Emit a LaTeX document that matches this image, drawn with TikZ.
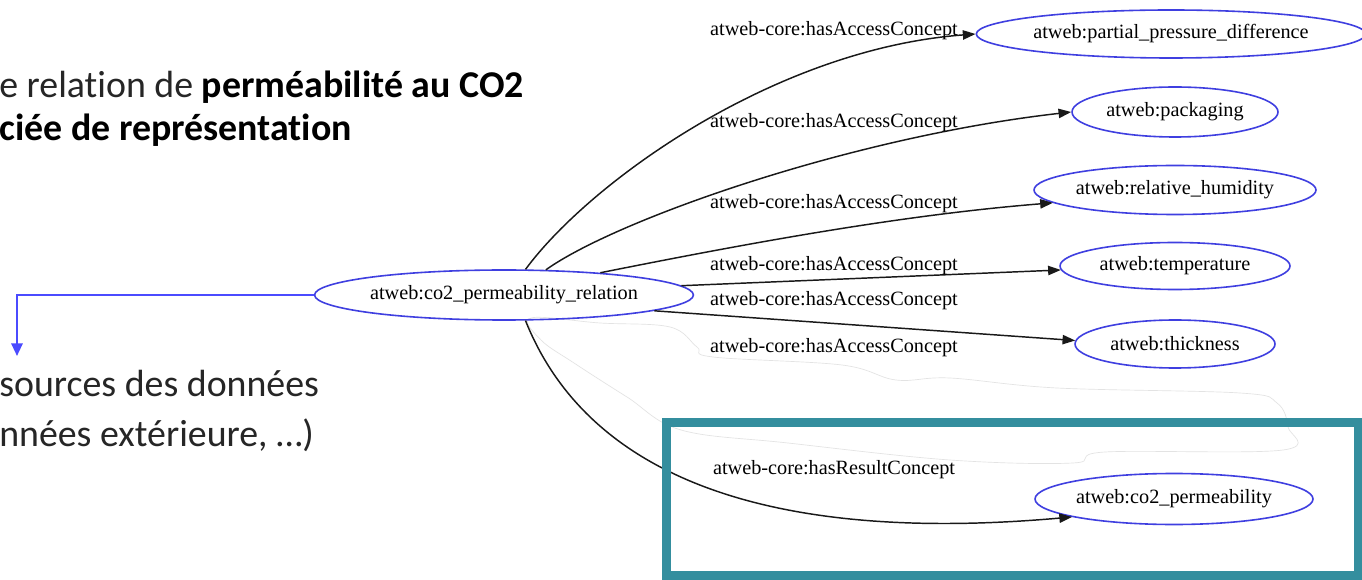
\documentclass[tikz,border=0pt]{standalone}
\usepackage{fontspec}
\setmainfont[Ligatures=NoCommon]{Carlito}
\newfontfamily\gfont{Liberation Serif}
\usetikzlibrary{shapes.geometric,arrows.meta}
\definecolor{ellblue}{HTML}{3F3FE0}
\definecolor{arrblue}{HTML}{4B4BFF}
\definecolor{tealbox}{HTML}{348E9E}
\definecolor{txtgray}{HTML}{262626}
\newcommand{\nolig}{\kern0pt\relax}
\tikzset{
  concept/.style={ellipse, draw=ellblue, line width=1.2pt, inner sep=0pt,
    font=\gfont\fontsize{15.2}{18}\selectfont, text=black},
  rel/.style={draw=black!90, line width=1.1pt, -{Triangle[length=9.5pt,width=7pt]}},
  rellabel/.style={font=\gfont\fontsize{15.2}{18}\selectfont, text=black, inner sep=0pt},
  slide/.style={font=\fontsize{28.4}{34}\selectfont, text=txtgray, inner sep=0pt, anchor=base west},
}
\begin{document}
\begin{tikzpicture}[x=0.75pt,y=-0.75pt]
\useasboundingbox (0,0) rectangle (1362,580);
\fill[white] (0,0) rectangle (1362,580);

% faint artefact outline
\draw[gray!22, line width=0.5pt] plot[smooth cycle, tension=0.6] coordinates {
 (531,318) (600,323) (670,327) (697,347) (713,357) (842,365) (896,380) (950,378)
 (1057,388) (1240,393) (1277,403) (1288,427) (1283,450) (1105,452) (1073,463)
 (950,460) (788,443) (681,430) (627,397) (574,363) (541,340)};

% slide text
\node[slide] (t1) at (-1,98) {e relat\nolig ion de \textbf{\color{black}perméabilité au CO2}};
\node[slide] (t2) at (-1,141) {\textbf{\color{black}ciée de représentat\nolig ion}};
\node[slide] (t3) at (-1,397) {sources des données};
\node[slide] (t4) at (-1,446) {nnées extérieure, …)};

% nodes
\node[concept, minimum width=372*0.75pt, minimum height=50*0.75pt] (main) at (504,295) {atweb:co2\_permeability\_relation};
\node[concept, minimum width=382*0.75pt, minimum height=48*0.75pt] (ppd) at (1171,34) {atweb:partial\_pressure\_difference};
\node[concept, minimum width=206*0.75pt, minimum height=50*0.75pt] (pack) at (1175,112) {atweb:packaging};
\node[concept, minimum width=282*0.75pt, minimum height=49*0.75pt] (rh) at (1175,190) {atweb:relative\_humidity};
\node[concept, minimum width=230*0.75pt, minimum height=47*0.75pt] (temp) at (1175,266) {atweb:temperature};
\node[concept, minimum width=200*0.75pt, minimum height=48*0.75pt] (thick) at (1175,344) {atweb:thickness};
\node[concept, minimum width=278*0.75pt, minimum height=51*0.75pt] (cp) at (1174,499) {atweb:co2\_permeability};

% edges
\draw[rel] (main.50) .. controls +(65,-88) and +(-200,15) .. (ppd.west);
\draw[rel] (main.31) .. controls +(70,-50) and +(-220,25) .. (pack.west);
\draw[rel] (main.13) .. controls +(150,-30) and +(-150,12) .. (rh.186);
\draw[rel] (main.3) -- (temp.182);
\draw[rel] (main.-6) -- (thick.178);
\draw[rel] (main.-50) .. controls +(60,150) and +(-315,28) .. (cp.190);

% edge labels
\node[rellabel] (l1) at (834,31) {atweb-core:hasAccessConcept};
\node[rellabel] (l2) at (834,123) {atweb-core:hasAccessConcept};
\node[rellabel] (l3) at (834,204) {atweb-core:hasAccessConcept};
\node[rellabel] (l4) at (834,266) {atweb-core:hasAccessConcept};
\node[rellabel] (l5) at (834,301) {atweb-core:hasAccessConcept};
\node[rellabel] (l6) at (834,348) {atweb-core:hasAccessConcept};
\node[rellabel] (l7) at (834,470) {atweb-core:hasResultConcept};

% teal frame
\draw[tealbox, line width=6.2pt] (666.5,422.5) rectangle (1358,575.5);

% blue arrow
\coordinate (btgt) at (17,356);
\draw[arrblue, line width=1.5pt, -{Triangle[length=9.5pt,width=8.5pt]}] (main.west) -| (btgt);
\end{tikzpicture}
\end{document}
